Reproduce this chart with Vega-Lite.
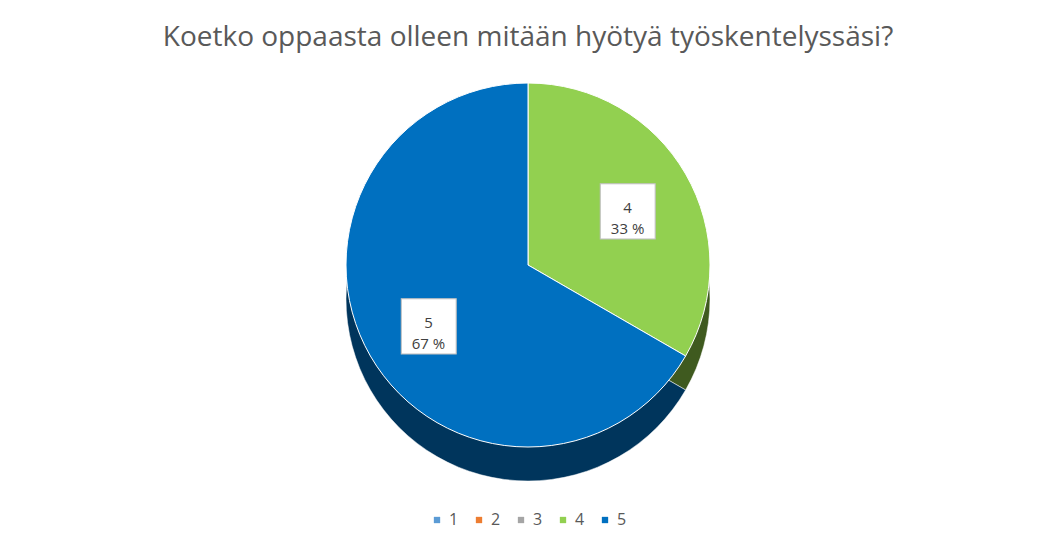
{
  "$schema": "https://vega.github.io/schema/vega-lite/v6.json",
  "autosize": {"type": "fit", "contains": "padding"},
  "width": 1056,
  "height": 538,
  "background": "white",
  "padding": {"top": 24, "bottom": 10, "left": 10, "right": 10},
  "title": {
    "text": "Koetko oppaasta olleen mitään hyötyä työskentelyssäsi?",
    "fontSize": 28,
    "font": "Open Sans",
    "fontWeight": "normal",
    "color": "#595959",
    "anchor": "middle",
    "offset": 6
  },
  "data": {
    "values": [
      {"category": "1", "value": 0, "label": ""},
      {"category": "2", "value": 0, "label": ""},
      {"category": "3", "value": 0, "label": ""},
      {"category": "4", "value": 1, "label": "4\n33 %"},
      {"category": "5", "value": 2, "label": "5\n67 %"}
    ]
  },
  "config": {
    "view": {"stroke": null},
    "text": {"lineBreak": "\n"},
    "legend": {"layout": {"bottom": {"anchor": "middle"}}}
  },
  "encoding": {
    "theta": {"field": "value", "type": "quantitative", "stack": true},
    "order": {"field": "category", "type": "ordinal"}
  },
  "layer": [
    {
      "mark": {"type": "arc", "outerRadius": 182, "yOffset": 34, "stroke": "#ffffff", "strokeWidth": 0.5},
      "encoding": {
        "color": {
          "field": "category",
          "type": "nominal",
          "scale": {"domain": ["1", "2", "3", "4", "5"], "range": ["#3a6e9c", "#a85a22", "#777777", "#3f5a1f", "#00355c"]},
          "legend": null
        }
      }
    },
    {
      "mark": {"type": "arc", "outerRadius": 182, "stroke": "#ffffff", "strokeWidth": 1},
      "encoding": {
        "color": {
          "field": "category",
          "type": "nominal",
          "scale": {"domain": ["1", "2", "3", "4", "5"], "range": ["#5B9BD5", "#ED7D31", "#A5A5A5", "#92D050", "#0070C0"]},
          "legend": {
            "title": null,
            "orient": "bottom",
            "direction": "horizontal",
            "symbolType": "square",
            "symbolSize": 40,
            "labelFontSize": 16,
            "labelFont": "Open Sans",
            "labelColor": "#595959",
            "columnPadding": 12,
            "symbolStrokeWidth": 0,
            "offset": 40
          }
        }
      }
    },
    {
      "transform": [{"filter": "datum.value > 0"}],
      "mark": {"type": "text", "radius": 115, "fontSize": 72, "font": "DejaVu Sans", "color": "white", "stroke": "#bfbfbf", "strokeWidth": 1, "baseline": "middle", "text": "■"},
      "encoding": {}
    },
    {
      "transform": [{"filter": "datum.value > 0"}],
      "mark": {"type": "text", "radius": 115, "fontSize": 15, "font": "Open Sans", "color": "#404040", "lineHeight": 21},
      "encoding": {"text": {"field": "label"}}
    }
  ],
  "resolve": {"scale": {"color": "independent"}}
}
